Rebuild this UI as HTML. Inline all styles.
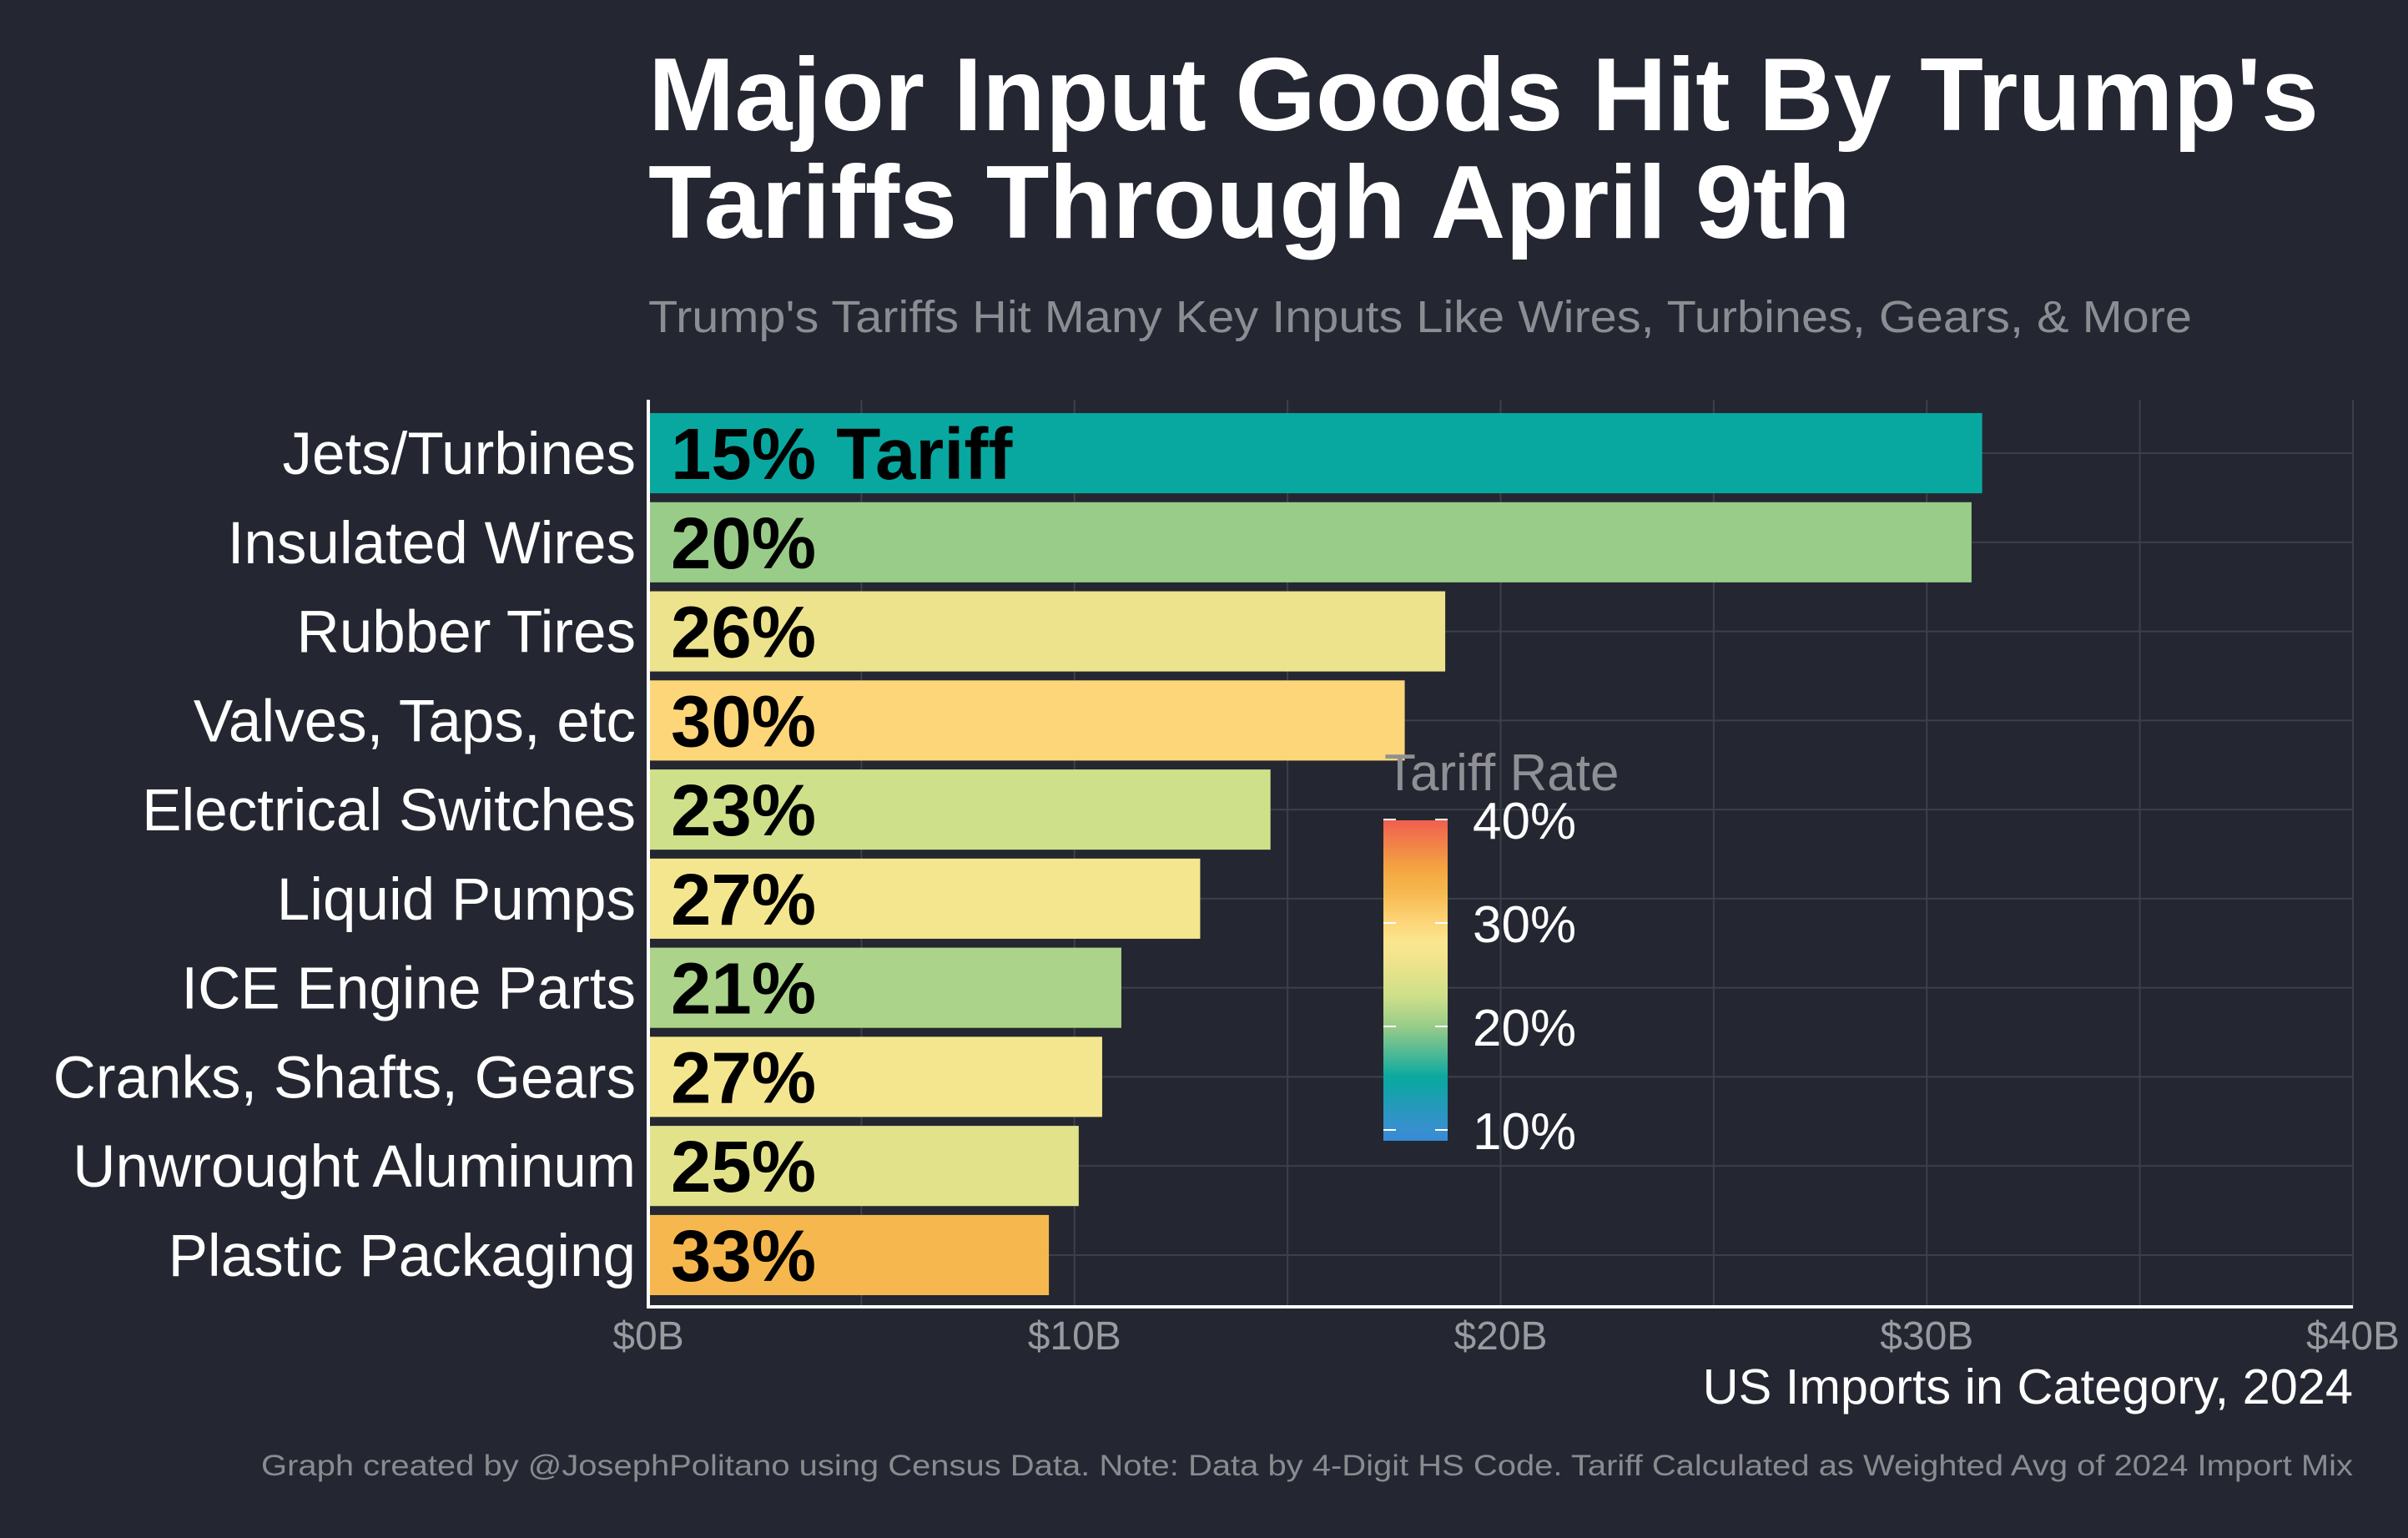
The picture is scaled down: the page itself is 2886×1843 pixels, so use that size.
<!DOCTYPE html>
<html><head><meta charset="utf-8"><style>
html,body{margin:0;padding:0;background:#242731;}
svg{display:block;font-family:"Liberation Sans",Arial,sans-serif;}
</style></head><body>
<svg id="chart" width="2886" height="1843" viewBox="0 0 2886 1843" xmlns="http://www.w3.org/2000/svg">
<rect x="0" y="0" width="2886" height="1843" fill="#242731"/>
<text x="777" y="156" font-size="124" font-weight="bold" fill="#ffffff" textLength="2002" lengthAdjust="spacingAndGlyphs">Major Input Goods Hit By Trump's</text>
<text x="777" y="285" font-size="124" font-weight="bold" fill="#ffffff" textLength="1441" lengthAdjust="spacingAndGlyphs">Tariffs Through April 9th</text>
<text x="777" y="398" font-size="54" fill="#8c8d93" textLength="1850" lengthAdjust="spacingAndGlyphs">Trump's Tariffs Hit Many Key Inputs Like Wires, Turbines, Gears, &amp; More</text>
<g id="grid"></g>
<g id="bars"></g>
<g id="legend"></g>
<g id="axes"></g>
<text x="2820" y="1682" font-size="59.5" fill="#ffffff" text-anchor="end">US Imports in Category, 2024</text>
<text x="2820" y="1768" font-size="35" fill="#8a8b90" text-anchor="end" textLength="2507" lengthAdjust="spacingAndGlyphs">Graph created by @JosephPolitano using Census Data. Note: Data by 4-Digit HS Code. Tariff Calculated as Weighted Avg of 2024 Import Mix</text>
</svg>
<script>
const categories = ["Jets/Turbines","Insulated Wires","Rubber Tires","Valves, Taps, etc","Electrical Switches","Liquid Pumps","ICE Engine Parts","Cranks, Shafts, Gears","Unwrought Aluminum","Plastic Packaging"];
const importsB = [31.3, 31.05, 18.7, 17.75, 14.6, 12.95, 11.1, 10.65, 10.1, 9.4];
const tariffRates = [15, 20, 26, 30, 23, 27, 21, 27, 25, 33];
const xTicks = [0, 10, 20, 30, 40];
const xTickLabels = ["$0B", "$10B", "$20B", "$30B", "$40B"];
const legendTicks = [10, 20, 30, 40];
const legendLabels = ["10%", "20%", "30%", "40%"];

const NS = "http://www.w3.org/2000/svg";
const X0 = 777, X1 = 2820, XMAX = 40;
const PT = 479, PB = 1568;
const n = categories.length;
const band = (PB - PT) / (n - 1 + 1.2);
const xScale = v => X0 + (v / XMAX) * (X1 - X0);
const yScale = i => PT + band * (0.6 + i);

const stops = [[7,"#3080dc"],[10,"#3a8fd0"],[15,"#08a8a0"],[20,"#99cc88"],[23,"#cfe08a"],[26,"#ece38c"],[28,"#fbe890"],[30,"#fdd67a"],[33,"#f6b84e"],[35,"#f4a840"],[40,"#ef5f50"]];
function hex(h){return [1,3,5].map(i=>parseInt(h.substr(i,2),16));}
function colorFor(v){
  if (v <= stops[0][0]) return stops[0][1];
  for (let i=1;i<stops.length;i++){
    if (v <= stops[i][0]){
      const t=(v-stops[i-1][0])/(stops[i][0]-stops[i-1][0]);
      const a=hex(stops[i-1][1]), b=hex(stops[i][1]);
      return "rgb("+a.map((c,k)=>Math.round(c+(b[k]-c)*t)).join(",")+")";
    }
  }
  return stops[stops.length-1][1];
}
function mk(tag, attrs, parent){const e=document.createElementNS(NS,tag);for(const k in attrs)e.setAttribute(k,attrs[k]);parent.appendChild(e);return e;}

const grid = document.getElementById("grid");
for (let v = 0; v <= XMAX; v += 5) {
  const l = mk("line",{x1:xScale(v),x2:xScale(v),y1:PT,y2:PB,stroke:"#3c4049","stroke-width":2},grid);
  
  
}
categories.forEach((c,i)=>{
  const l = mk("line",{x1:X0,x2:X1,y1:yScale(i),y2:yScale(i),stroke:"#3c4049","stroke-width":2},grid);
  
  
});

const bars = document.getElementById("bars");
const bh = band * 0.9;
categories.forEach((c,i)=>{
  const r = mk("rect",{x:X0,y:yScale(i)-bh/2,width:xScale(importsB[i])-X0,height:bh,fill:colorFor(tariffRates[i])},bars);
  
  
  const t = mk("text",{x:804,y:yScale(i)+31,"font-size":87,"font-weight":"bold",fill:"#000"},bars);
  t.textContent = tariffRates[i] + "%" + (i===0 ? " Tariff" : "");
  
  
  const lab = mk("text",{x:762,y:yScale(i)+25,"font-size":71,fill:"#ffffff","text-anchor":"end"},bars);
  lab.textContent = c;
  
  
});

const axes = document.getElementById("axes");
const ya = mk("line",{x1:X0,x2:X0,y1:PT,y2:PB,stroke:"#ffffff","stroke-width":4},axes);


const xa = mk("line",{x1:X0-2,x2:X1,y1:PB-2,y2:PB-2,stroke:"#ffffff","stroke-width":4},axes);


xTicks.forEach((v,i)=>{
  const t = mk("text",{x:xScale(v),y:1617,"font-size":48,fill:"#9a9ba0","text-anchor":"middle"},axes);
  t.textContent = xTickLabels[i];
  
  
});

const lg = document.getElementById("legend");
const LX = 1658, LW = 77, LT = 983, LB = 1367;
const lyScale = v => 1354 - (v - 10) * 12.4;
const vTop = 10 + (1354 - LT) / 12.4, vBot = 10 + (1354 - LB) / 12.4;
const defs = mk("defs",{},lg);
const grad = mk("linearGradient",{id:"lgGrad",x1:0,y1:1,x2:0,y2:0},defs);
for (let k = 0; k <= 40; k++) {
  const v = vBot + (vTop - vBot) * k / 40;
  mk("stop",{offset:(k/40),"stop-color":colorFor(v)},grad);
}
const lt = mk("text",{x:1659,y:947,"font-size":62,fill:"#8f9095"},lg);
lt.textContent = "Tariff Rate";


const cb = mk("rect",{x:LX,y:LT,width:LW,height:LB-LT,fill:"url(#lgGrad)"},lg);


legendTicks.forEach((v,i)=>{
  const y = lyScale(v);
  mk("line",{x1:LX,x2:LX+15,y1:y,y2:y,stroke:"#fff","stroke-width":2},lg);
  mk("line",{x1:LX+LW-15,x2:LX+LW,y1:y,y2:y,stroke:"#fff","stroke-width":2},lg);
  const t = mk("text",{x:1765,y:y+23,"font-size":62,fill:"#ffffff"},lg);
  t.textContent = legendLabels[i];
  
  
});
</script>
</body></html>
